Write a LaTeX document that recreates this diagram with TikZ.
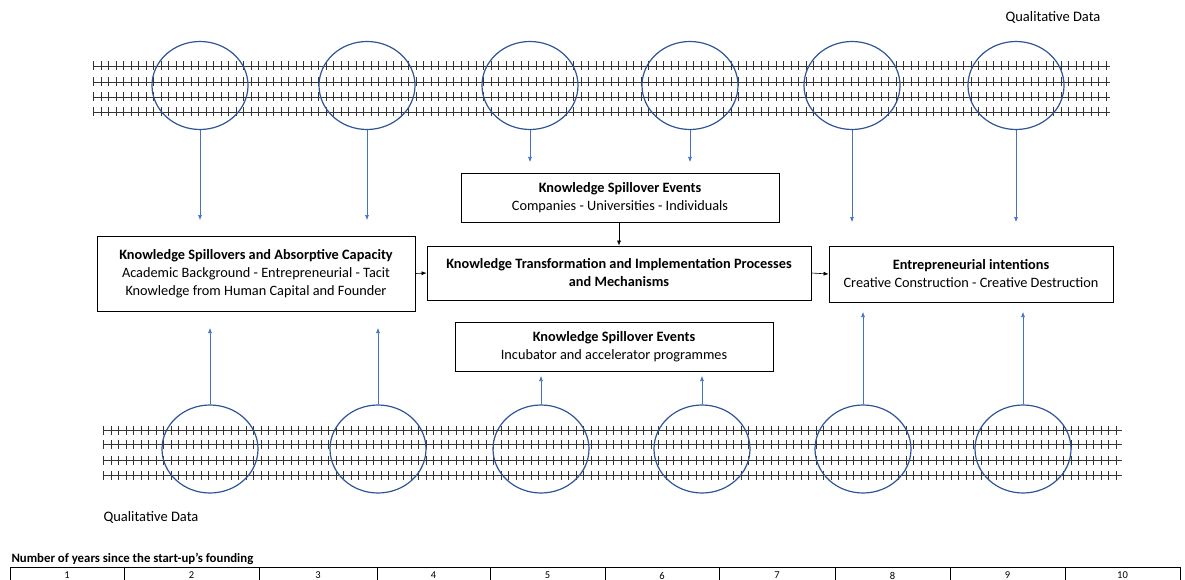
\documentclass[tikz,border=0pt]{standalone}
\usepackage{fontspec}
\setmainfont{Carlito}
\usetikzlibrary{positioning, arrows.meta, shapes.geometric}
\definecolor{ringblue}{HTML}{2F5597}
\definecolor{arrblue}{HTML}{4472C4}

\begin{document}
\begin{tikzpicture}[x=1pt,y=-1pt,
	box/.style={draw,thick,rectangle,align=center,inner sep=0pt,
		font=\fontsize{14.3}{18}\selectfont},
	ring/.style={draw=ringblue,line width=1.2pt,ellipse,minimum width=96pt,
		minimum height=88pt,inner sep=0pt},
	rail/.style={black!80,line width=0.9pt,postaction={draw,line width=9pt,
		dash pattern=on 0.9pt off 6.6pt}},
	flow/.style={-{Latex[length=5pt,width=4pt]},black,semithick},
	feed/.style={-{Latex[length=5pt,width=4pt]},arrblue,semithick}]
	\useasboundingbox (0,0) rectangle (1185,580);
	% rails with hatching
	\foreach \Y in {66,82,97,112} \draw[rail] (93,\Y) -- (1110,\Y);
	\foreach \Y in {430,444,460,475} \draw[rail] (103,\Y) -- (1122,\Y);
	% rings on the rails
	\foreach \X [count=\i] in {200,367,530,690,852,1016}
		\node[ring] (t\i) at (\X,85.5) {};
	\foreach \X [count=\i] in {210,378,541,702,863,1023}
		\node[ring] (b\i) at (\X,449) {};
	\node[font=\fontsize{14.5}{16}\selectfont] (qt) at (1053,17) {Qualitative Data};
	\node[font=\fontsize{14.5}{16}\selectfont] (qb) at (151,517) {Qualitative Data};
	% boxes
	\node[box,minimum width=318pt,minimum height=75pt] (absorb) at (256,273.5)
		{\textbf{Knowledge Spillovers and Absorptive Capacity}\\
		Academic Background - Entrepreneurial - Tacit\\
		Knowledge from Human Capital and Founder};
	\node[box,minimum width=384pt,minimum height=54pt] (trans) at (619,273)
		{\textbf{Knowledge Transformation and Implementation Processes}\\
		\textbf{and Mechanisms}};
	\node[box,minimum width=318pt,minimum height=49pt] (evtop) at (620,198)
		{\textbf{Knowledge Spillover Events}\\
		Companies - Universities - Individuals};
	\node[box,minimum width=284pt,minimum height=56pt] (intent) at (971,274)
		{\textbf{Entrepreneurial intentions}\\
		Creative Construction - Creative Destruction};
	\node[box,minimum width=318pt,minimum height=49pt] (evbot) at (614,346.5)
		{\textbf{Knowledge Spillover Events}\\
		Incubator and accelerator programmes};
	% black flow
	\draw[flow] (absorb.east) -- (trans.west);
	\draw[flow] (trans.east) -- (intent.west);
	\draw[flow] (evtop.south -| trans.north) -- (trans.north);
	% blue arrows from the rings
	\foreach \i/\Y in {1/220,2/220,3/162,4/162,5/222,6/222}
		{\coordinate (te\i) at (t\i.south |- 0,\Y);
		\draw[feed] (t\i.south) -- (te\i);}
	\foreach \i/\Y in {1/328,2/328,3/376,4/376,5/312,6/312}
		{\coordinate (be\i) at (b\i.north |- 0,\Y);
		\draw[feed] (b\i.north) -- (be\i);}
	% years table
	\node[anchor=west,font=\fontsize{12.8}{14}\bfseries\selectfont] (yrs) at (8,559)
		{Number of years since the start-up{\char"0027}s founding};
	\draw[thick] (10,567) -- (1180,567);
	\draw[thick] (1180,567) -- (1180,585);
	\foreach \a/\b [count=\i] in {10/124,124/259,259/377,377/490,490/605,
		605/719,719/835,835/950,950/1065,1065/1180}
		{\draw[thick] (\a,567) -- (\a,585);
		\node[font=\fontsize{10.5}{11}\selectfont] (y\i) at ({(\a+\b)/2},575.5) {\i};}
\end{tikzpicture}
\end{document}
